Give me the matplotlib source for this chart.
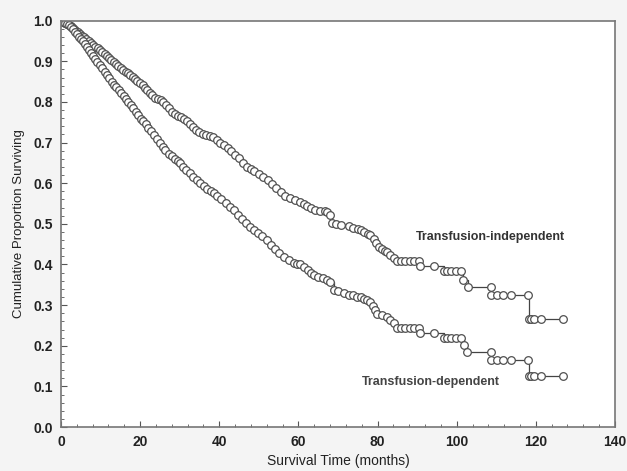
import matplotlib.pyplot as plt
from matplotlib.ticker import MultipleLocator

# Kaplan-Meier estimates (time in months, survival proportion)
t_indep = [0.0, 0.5, 1.0, 1.5, 2.0, 2.6, 3.1, 3.6, 4.2, 4.8, 5.3, 5.9, 6.4, 7.0, 7.6, 8.1,
           8.7, 9.3, 9.8, 10.4, 11.0, 11.6, 12.1, 12.7, 13.3, 13.9, 14.5, 15.1, 15.7, 16.3,
           16.9, 17.5, 18.1, 18.7, 19.3, 19.9, 20.6, 21.2, 21.8, 22.5, 23.1, 23.8, 24.5, 25.2,
           25.9, 26.6, 27.3, 28.0, 28.8, 29.5, 30.3, 31.0, 31.8, 32.6, 33.4, 34.2, 35.0, 35.8,
           36.7, 37.6, 38.5, 39.4, 40.3, 41.2, 42.1, 43.0, 43.9, 44.9, 45.9, 46.9, 47.9, 48.9,
           50.0, 51.1, 52.2, 53.3, 54.4, 55.5, 56.7, 57.9, 59.1, 60.3, 61.3, 62.2, 63.2, 64.3,
           65.5, 66.6, 67.3, 68.1, 68.5, 69.4, 70.8, 72.7, 73.9, 75.0, 75.7, 76.6, 77.5, 78.2,
           79.0, 79.6, 80.3, 81.2, 82.0, 82.4, 83.2, 84.1, 85.0, 86.0, 87.0, 88.1, 89.2, 90.5,
           90.7, 94.3, 96.7, 97.5, 98.6, 99.7, 101.0, 101.7, 102.8, 108.6, 108.7, 110.2, 111.6,
           113.7, 117.9, 118.3, 118.8, 119.5, 121.3, 126.9]
s_indep = [1.000, 0.998, 0.995, 0.993, 0.990, 0.986, 0.982, 0.978, 0.973, 0.968, 0.963, 0.959,
           0.955, 0.951, 0.946, 0.941, 0.936, 0.932, 0.928, 0.924, 0.919, 0.914, 0.909, 0.904,
           0.899, 0.894, 0.889, 0.884, 0.879, 0.875, 0.871, 0.867, 0.862, 0.857, 0.852, 0.847,
           0.841, 0.835, 0.830, 0.823, 0.816, 0.810, 0.807, 0.805, 0.801, 0.793, 0.784, 0.776,
           0.771, 0.766, 0.762, 0.758, 0.754, 0.746, 0.739, 0.731, 0.725, 0.721, 0.718, 0.716,
           0.713, 0.707, 0.700, 0.693, 0.686, 0.679, 0.670, 0.661, 0.651, 0.641, 0.636, 0.630,
           0.623, 0.616, 0.607, 0.598, 0.589, 0.578, 0.569, 0.564, 0.559, 0.555, 0.550, 0.545,
           0.540, 0.534, 0.532, 0.531, 0.530, 0.521, 0.501, 0.499, 0.497, 0.494, 0.490, 0.487,
           0.484, 0.480, 0.476, 0.472, 0.462, 0.452, 0.443, 0.438, 0.434, 0.431, 0.423, 0.415,
           0.408, 0.408, 0.408, 0.408, 0.408, 0.408, 0.396, 0.396, 0.383, 0.383, 0.383, 0.383,
           0.383, 0.363, 0.345, 0.345, 0.324, 0.324, 0.324, 0.324, 0.324, 0.267, 0.267, 0.267,
           0.267, 0.267]

t_dep = [0.0, 0.5, 1.0, 1.5, 2.0, 2.5, 3.0, 3.5, 4.0, 4.5, 5.0, 5.5, 6.0, 6.5, 7.0, 7.6, 8.1,
         8.6, 9.2, 9.8, 10.4, 11.0, 11.6, 12.2, 12.8, 13.4, 14.0, 14.6, 15.2, 15.8, 16.4, 17.0,
         17.6, 18.2, 18.9, 19.5, 20.2, 20.8, 21.5, 22.1, 22.8, 23.5, 24.2, 25.0, 25.7, 26.4,
         27.2, 28.0, 28.8, 29.5, 30.1, 30.9, 31.7, 32.5, 33.4, 34.3, 35.2, 36.1, 37.0, 37.8,
         38.6, 39.5, 40.5, 41.6, 42.8, 43.8, 44.8, 45.8, 46.8, 47.8, 48.8, 49.9, 50.9, 52.0,
         53.0, 54.1, 55.2, 56.3, 57.5, 58.8, 59.7, 60.5, 61.4, 62.3, 63.1, 63.9, 65.0, 66.1,
         67.1, 68.1, 68.9, 70.0, 71.4, 72.7, 73.7, 74.7, 75.7, 76.6, 77.4, 78.2, 78.8, 79.4,
         79.9, 81.2, 82.4, 83.2, 84.1, 85.0, 86.0, 87.0, 88.1, 89.2, 90.5, 90.7, 94.3, 96.7,
         97.5, 98.6, 99.7, 101.0, 101.9, 102.7, 108.6, 108.7, 110.2, 111.6, 113.7, 117.9,
         118.3, 118.8, 119.5, 121.3, 126.9]
s_dep = [1.000, 0.998, 0.995, 0.993, 0.990, 0.985, 0.979, 0.973, 0.967, 0.961, 0.955, 0.949,
         0.942, 0.935, 0.928, 0.920, 0.914, 0.907, 0.899, 0.891, 0.883, 0.874, 0.866, 0.858,
         0.850, 0.843, 0.836, 0.829, 0.822, 0.815, 0.807, 0.800, 0.793, 0.785, 0.776, 0.768,
         0.759, 0.752, 0.745, 0.737, 0.728, 0.718, 0.709, 0.699, 0.690, 0.681, 0.673, 0.666,
         0.660, 0.654, 0.649, 0.641, 0.633, 0.625, 0.616, 0.608, 0.601, 0.594, 0.587, 0.581,
         0.575, 0.568, 0.560, 0.552, 0.542, 0.533, 0.523, 0.513, 0.503, 0.493, 0.485, 0.477,
         0.469, 0.460, 0.449, 0.439, 0.429, 0.419, 0.410, 0.403, 0.401, 0.400, 0.393, 0.386,
         0.380, 0.374, 0.370, 0.366, 0.361, 0.357, 0.337, 0.334, 0.330, 0.326, 0.324, 0.321,
         0.319, 0.315, 0.312, 0.308, 0.298, 0.288, 0.279, 0.275, 0.271, 0.263, 0.255, 0.244,
         0.244, 0.244, 0.244, 0.244, 0.244, 0.232, 0.232, 0.220, 0.220, 0.220, 0.220, 0.220,
         0.201, 0.185, 0.185, 0.166, 0.166, 0.166, 0.166, 0.166, 0.126, 0.126, 0.126, 0.126,
         0.126]

plt.rcParams['font.family'] = ['Liberation Sans', 'DejaVu Sans']

fig = plt.figure(figsize=(6.27, 4.71), dpi=100, facecolor='#f4f4f4')
ax = fig.add_axes([0.0973, 0.0934, 0.8835, 0.8626])
ax.set_facecolor('white')

for t, s in [(t_indep, s_indep), (t_dep, s_dep)]:
    ax.plot(t, s, drawstyle='steps-post', color='#444444', linewidth=0.9,
            marker='o', markersize=5.5, markerfacecolor='white',
            markeredgecolor='#505050', markeredgewidth=0.9)

ax.text(89.6, 0.467, 'Transfusion-independent', fontsize=9, fontweight='bold',
        color='#333333', va='center', ha='left')
ax.text(76.0, 0.111, 'Transfusion-dependent', fontsize=9, fontweight='bold',
        color='#444444', va='center', ha='left')

ax.set_xlim(0, 140)
ax.set_ylim(0, 1.0)
ax.xaxis.set_major_locator(MultipleLocator(20))
ax.xaxis.set_minor_locator(MultipleLocator(4))
ax.yaxis.set_major_locator(MultipleLocator(0.1))
ax.yaxis.set_minor_locator(MultipleLocator(0.02))
ax.yaxis.set_major_formatter(plt.FormatStrFormatter('%.1f'))
ax.tick_params(which='both', direction='in', color='#555555', top=False, right=False)
ax.tick_params(which='major', length=4, labelsize=10)
ax.tick_params(axis='x', which='major', pad=6)
ax.tick_params(axis='y', which='major', pad=6)
ax.tick_params(which='minor', length=2)
for lbl in ax.get_xticklabels() + ax.get_yticklabels():
    lbl.set_fontweight('bold')
    lbl.set_color('#222222')

for sp in ax.spines.values():
    sp.set_color('#777777')
    sp.set_linewidth(1.2)

ax.set_xlabel('Survival Time (months)', fontsize=10, color='#222222', labelpad=3)
ax.set_ylabel('Cumulative Proportion Surviving', fontsize=9.5, color='#222222', labelpad=6)

fig.savefig('out.png', dpi=100, facecolor=fig.get_facecolor())
